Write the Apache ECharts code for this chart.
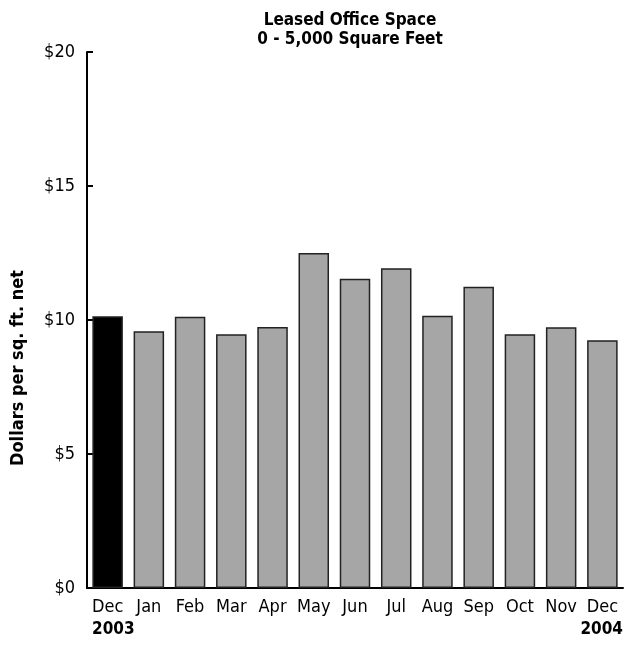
<!DOCTYPE html>
<html><head><meta charset="utf-8">
<script src="https://cdn.jsdelivr.net/npm/echarts@6/dist/echarts.min.js"></script>
<style>html,body{margin:0;padding:0;background:#fff}#c{width:626px;height:646px}</style>
</head><body><div id="c"></div>
<script>
const categories = ['Dec','Jan','Feb','Mar','Apr','May','Jun','Jul','Aug','Sep','Oct','Nov','Dec'];
const values = [10.14, 9.58, 10.12, 9.47, 9.74, 12.5, 11.54, 11.93, 10.16, 11.24, 9.47, 9.73, 9.24];
const highlightIndex = 0;
const yearLabels = ['2003', '2004'];
const titleLines = ['Leased Office Space', '0 - 5,000 Square Feet'];
const yAxisTitle = 'Dollars per sq. ft. net';

const FONT = '"Liberation Sans Narrow", "DejaVu Sans Condensed", "Liberation Sans", sans-serif';
const chart = echarts.init(document.getElementById('c'), null, {renderer: 'canvas'});
chart.setOption({
  animation: false,
  backgroundColor: '#fff',
  title: {
    text: titleLines.join('\n'),
    left: 345, top: 6, textAlign: 'center',
    textStyle: {fontFamily: FONT, fontWeight: 'bold', fontSize: 17, color: '#000', lineHeight: 19}
  },
  grid: {left: 87, right: 3, top: 52, bottom: 58, containLabel: false},
  xAxis: {
    type: 'category', data: categories,
    axisLine: {lineStyle: {color: '#000', width: 2}},
    axisTick: {show: false},
    axisLabel: {color: '#000', fontFamily: FONT, fontSize: 18, margin: 10, interval: 0}
  },
  yAxis: {
    type: 'value', min: 0, max: 20, interval: 5,
    axisLine: {show: true, lineStyle: {color: '#000', width: 2}},
    axisTick: {show: true, inside: true, length: 6, lineStyle: {color: '#000', width: 2}},
    splitLine: {show: false},
    axisLabel: {color: '#000', fontFamily: FONT, fontSize: 18, margin: 12, formatter: '${value}'}
  },
  graphic: [
    {type: 'text', left: 92, top: 621, style: {text: yearLabels[0], font: 'bold 17px ' + FONT, fill: '#000'}},
    {type: 'text', right: 3, top: 621, style: {text: yearLabels[1], font: 'bold 17px ' + FONT, fill: '#000'}},
    {type: 'text', x: 18, y: 368, rotation: Math.PI / 2,
      style: {text: yAxisTitle, font: 'bold 18px ' + FONT, fill: '#000', align: 'center', verticalAlign: 'middle'},
      originX: 0, originY: 0}
  ],
  series: [{
    type: 'bar',
    data: values.map((v, i) => ({value: v, itemStyle: {color: i === highlightIndex ? '#000' : '#a6a6a6'}})),
    barCategoryGap: '26%',
    itemStyle: {borderColor: '#222', borderWidth: 1.5}
  }]
});
</script></body></html>
